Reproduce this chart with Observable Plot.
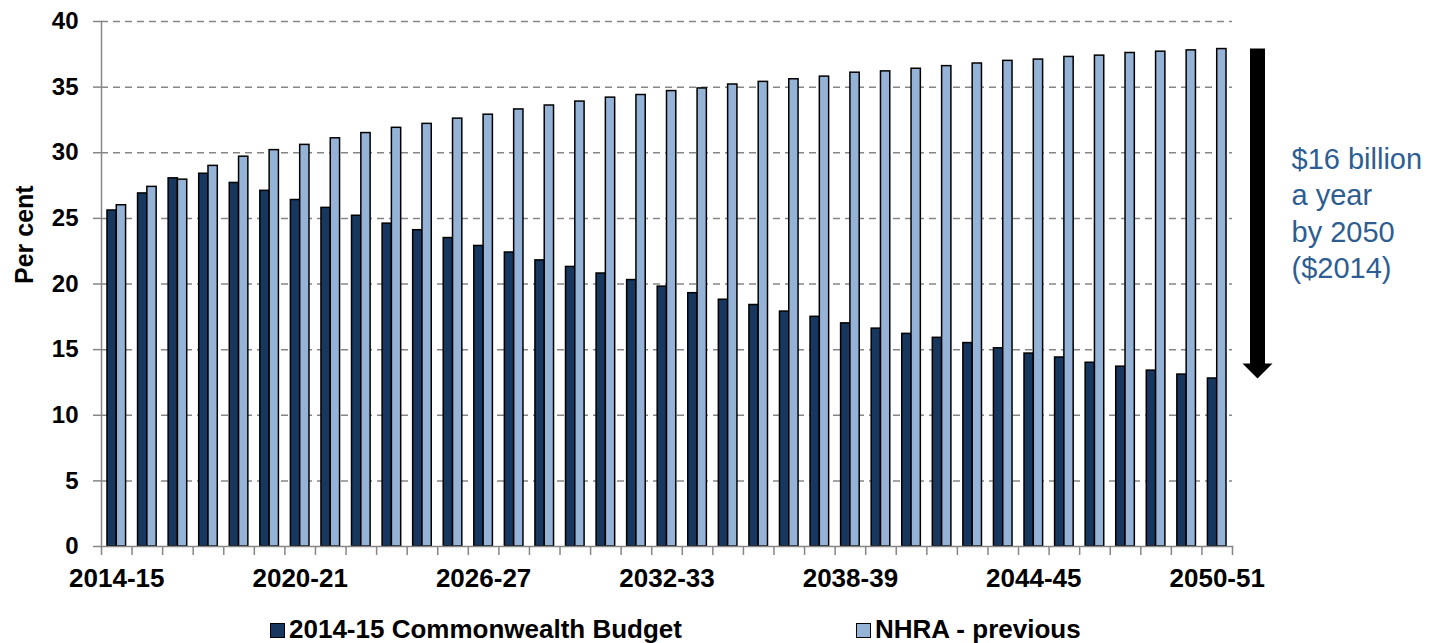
<!DOCTYPE html>
<html>
<head>
<meta charset="utf-8">
<script src="https://cdn.jsdelivr.net/npm/d3@7"></script>
<script src="https://cdn.jsdelivr.net/npm/@observablehq/plot@0.6"></script>
<style>
  html, body { margin: 0; padding: 0; background: #fff; }
  #chart svg { display: block; }
  #legend { position: relative; width: 1441px; height: 40px; font: bold 26px "Liberation Sans", Arial, sans-serif; color: #000; }
  #legend .item { position: absolute; top: 11px; white-space: nowrap; }
  #legend .swatch { position: absolute; top: 20px; width: 13px; height: 13px; border: 1px solid #000; }
</style>
</head>
<body>
<div id="chart"></div>
<div id="legend"></div>
<script>
// Financial years shown on the x axis
const years = [
  "2014-15", "2015-16", "2016-17", "2017-18", "2018-19", "2019-20", "2020-21",
  "2021-22", "2022-23", "2023-24", "2024-25", "2025-26", "2026-27", "2027-28",
  "2028-29", "2029-30", "2030-31", "2031-32", "2032-33", "2033-34", "2034-35",
  "2035-36", "2036-37", "2037-38", "2038-39", "2039-40", "2040-41", "2041-42",
  "2042-43", "2043-44", "2044-45", "2045-46", "2046-47", "2047-48", "2048-49",
  "2049-50", "2050-51"
];

// Commonwealth share of hospital funding, per cent
const budget = [
  25.6, 26.9, 28.05, 28.4, 27.7, 27.1, 26.4, 25.8, 25.2, 24.6, 24.1, 23.5, 22.9,
  22.4, 21.8, 21.3, 20.8, 20.3, 19.8, 19.3, 18.8, 18.4, 17.9, 17.5, 17.0, 16.6,
  16.2, 15.9, 15.5, 15.1, 14.7, 14.4, 14.0, 13.7, 13.4, 13.1, 12.8
];
const previous = [
  26.0, 27.4, 27.95, 29.0, 29.7, 30.2, 30.6, 31.1, 31.5, 31.9, 32.2, 32.6, 32.9,
  33.3, 33.6, 33.9, 34.2, 34.4, 34.7, 34.9, 35.2, 35.4, 35.6, 35.8, 36.1, 36.2,
  36.4, 36.6, 36.8, 37.0, 37.1, 37.3, 37.4, 37.6, 37.7, 37.8, 37.9
];

const seriesNames = ["2014-15 Commonwealth Budget", "NHRA - previous"];
const seriesColors = ["#17375E", "#95B3D7"];

const xTickLabels = ["2014-15", "2020-21", "2026-27", "2032-33", "2038-39", "2044-45", "2050-51"];
const yTicks = [0, 5, 10, 15, 20, 25, 30, 35, 40];
const annotation = "$16 billion\na year\nby 2050\n($2014)";

// Layout
const W = 1441, H = 603;
const mL = 101, mR = 209, mT = 21, mB = 57;
const bw = (W - mL - mR) / years.length;   // band width of one year
const barW = 9.3;                            // width of a single bar
const gridGrey = "#868686";
const font = '"Liberation Sans", Arial, Helvetica, sans-serif';

const rowsBudget = years.map((year, i) => ({year, value: budget[i]}));
const rowsPrev = years.map((year, i) => ({year, value: previous[i]}));

// Downward arrowhead whose tip sits on the anchor point
const arrowHead = {
  draw(ctx, size) {
    const r = Math.sqrt(size / Math.PI);
    ctx.moveTo(-r, -r);
    ctx.lineTo(r, -r);
    ctx.lineTo(0, 0);
    ctx.closePath();
  }
};

const last = years[years.length - 1];
const arrowDx = bw / 2 + 25;

const plot = Plot.plot({
  width: W,
  height: H,
  marginLeft: mL,
  marginRight: mR,
  marginTop: mT,
  marginBottom: mB,
  style: {fontFamily: font, background: "#fff", color: "#000", overflow: "visible"},
  x: {type: "band", domain: years, padding: 0, round: false, label: null},
  y: {domain: [0, 40], label: null},
  marks: [
    Plot.gridY(yTicks.filter(v => v > 0), {
      stroke: gridGrey, strokeOpacity: 1, strokeWidth: 1.5, strokeDasharray: "7,5"
    }),
    Plot.barY(rowsBudget, {
      x: "year", y: "value", fill: seriesColors[0], stroke: "#000", strokeWidth: 1.5,
      insetLeft: bw / 2 - barW, insetRight: bw / 2
    }),
    Plot.barY(rowsPrev, {
      x: "year", y: "value", fill: seriesColors[1], stroke: "#000", strokeWidth: 1.5,
      insetLeft: bw / 2, insetRight: bw / 2 - barW
    }),
    Plot.frame({anchor: "left", stroke: gridGrey, strokeWidth: 1.5}),
    Plot.frame({anchor: "bottom", stroke: gridGrey, strokeWidth: 1.5}),
    // tick marks between the years
    Plot.ruleX(years, {
      x: d => d, dx: -bw / 2, y1: () => 0, y2: () => 0, insetBottom: -9,
      stroke: gridGrey, strokeWidth: 1.5
    }),
    Plot.ruleX([last], {
      x: d => d, dx: bw / 2, y1: () => 0, y2: () => 0, insetBottom: -9,
      stroke: gridGrey, strokeWidth: 1.5
    }),
    Plot.axisY({
      ticks: yTicks, tickSize: 8, tickPadding: 15, stroke: gridGrey, strokeWidth: 1.5,
      fontSize: 24, fontWeight: "bold", label: null
    }),
    Plot.axisX({
      ticks: xTickLabels, tickSize: 0, tickPadding: 22,
      fontSize: 26, fontWeight: "bold", label: null
    }),
    Plot.text(["Per cent"], {
      text: d => d, frameAnchor: "left", dx: -77, rotate: -90,
      fontSize: 25, fontWeight: "bold", fill: "#000"
    }),
    // gap between the two projections in 2050-51
    Plot.ruleX([last], {
      x: d => d, y1: () => previous[previous.length - 1], y2: () => budget[budget.length - 1],
      dx: arrowDx, insetBottom: 14, stroke: "#000", strokeWidth: 15
    }),
    Plot.dot([last], {
      x: d => d, y: () => budget[budget.length - 1], dx: arrowDx,
      symbol: arrowHead, r: 15, fill: "#000", stroke: null
    }),
    Plot.text([annotation], {
      text: d => d, frameAnchor: "right", textAnchor: "start", dx: 59, dy: -72,
      fontSize: 29, lineHeight: 1.25, fill: "#2E5D91"
    })
  ]
});

document.getElementById("chart").appendChild(plot);

// Legend below the chart
const legendPos = [{swatch: 270, text: 289}, {swatch: 856, text: 875}];
const legend = d3.select("#legend");
seriesNames.forEach((name, i) => {
  legend.append("div").attr("class", "swatch")
    .style("left", legendPos[i].swatch + "px")
    .style("background", seriesColors[i]);
  legend.append("div").attr("class", "item")
    .style("left", legendPos[i].text + "px")
    .text(name);
});
</script>
</body>
</html>
